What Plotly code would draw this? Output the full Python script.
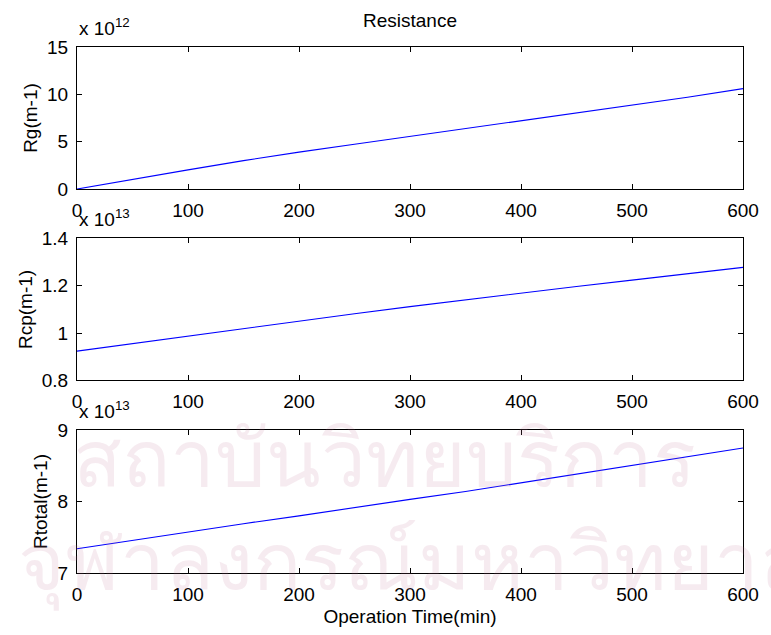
import plotly.graph_objects as go

# Operation time (min) and resistances, stored in the scaled units shown on each axis
time_min = [0, 50, 100, 150, 200, 250, 300, 350, 400, 450, 500, 550, 600]
rg_e12 = [0.0, 1.05, 2.02, 3.0, 3.9, 4.72, 5.55, 6.35, 7.17, 8.0, 8.85, 9.7, 10.6]
rcp_e13 = [0.924, 0.956, 0.988, 1.020, 1.051, 1.082, 1.112, 1.141, 1.169, 1.197, 1.224, 1.251, 1.278]
rtotal_e13 = [7.34, 7.46, 7.58, 7.69, 7.80, 7.92, 8.03, 8.14, 8.26, 8.38, 8.50, 8.62, 8.75]

y_titles = ["Rg(m-1)", "Rcp(m-1)", "Rtotal(m-1)"]
exponents = [12, 13, 13]
x_ticks = [0, 100, 200, 300, 400, 500, 600]
watermark_lines = ["สถาบันวิทยบริการ", "จุฬาลงกรณ์มหาวิทยาลัย"]

FONT = "Liberation Sans, Arial, sans-serif"
FS = 19
BLUE = "#0000ff"

series = [rg_e12, rcp_e13, rtotal_e13]
y_ranges = [[0, 15], [0.8, 1.4], [7, 9]]
y_dticks = [5, 0.2, 1]
domains = [[0.730, 1.0], [0.366, 0.636], [0.0, 0.2717]]

fig = go.Figure()

for i, vals in enumerate(series):
    n = "" if i == 0 else str(i + 1)
    fig.add_trace(go.Scatter(
        x=time_min, y=vals, mode="lines",
        line=dict(color=BLUE, width=1.1),
        xaxis="x" + n, yaxis="y" + n, showlegend=False,
    ))
    common = dict(
        showline=True, linecolor="black", linewidth=1, mirror="allticks",
        ticks="inside", ticklen=5, tickcolor="black", tickwidth=1,
        showgrid=False, zeroline=False,
        tickfont=dict(family=FONT, size=FS, color="black"),
    )
    fig.layout["xaxis" + n] = dict(
        common, domain=[0, 1], range=[0, 600], tickvals=x_ticks,
        anchor="y" + n, ticklabelstandoff=4,
    )
    fig.layout["yaxis" + n] = dict(
        common, domain=domains[i], range=y_ranges[i], dtick=y_dticks[i],
        anchor="x" + n, ticklabelstandoff=4,
        title=dict(text=y_titles[i], standoff=4,
                   font=dict(family=FONT, size=FS, color="black")),
    )
    # axis multiplier label above the top-left corner
    fig.add_annotation(
        text="x 10<sup>%d</sup>" % exponents[i],
        xref="x%s domain" % n, yref="y%s domain" % n,
        x=0, y=1, xanchor="left", yanchor="bottom", yshift=6,
        showarrow=False, font=dict(family=FONT, size=FS, color="black"),
    )

fig.layout.xaxis3.title = dict(text="Operation Time(min)", standoff=5,
                               font=dict(family=FONT, size=FS, color="black"))

fig.add_annotation(
    text="Resistance", xref="x domain", yref="y domain", x=0.5, y=1,
    xanchor="center", yanchor="bottom", yshift=14, showarrow=False,
    font=dict(family=FONT, size=FS, color="black"),
)

# faint library watermark across the lower panel
wm_pos = [(0.462, 0.215, "center"), (-0.092, 0.017, "left")]
for txt, (xpos, ypos, anchor) in zip(watermark_lines, wm_pos):
    fig.add_annotation(
        text=txt, xref="paper", yref="paper", x=xpos, y=ypos,
        xanchor=anchor, yanchor="middle", showarrow=False,
        font=dict(family="sans-serif", size=80, color="rgba(190,110,150,0.14)"),
    )

fig.update_layout(
    width=771, height=635,
    margin=dict(l=77, r=21, t=47, b=58),
    paper_bgcolor="white", plot_bgcolor="white",
    font=dict(family=FONT, size=FS, color="black"),
)

fig.write_html("out.html")
